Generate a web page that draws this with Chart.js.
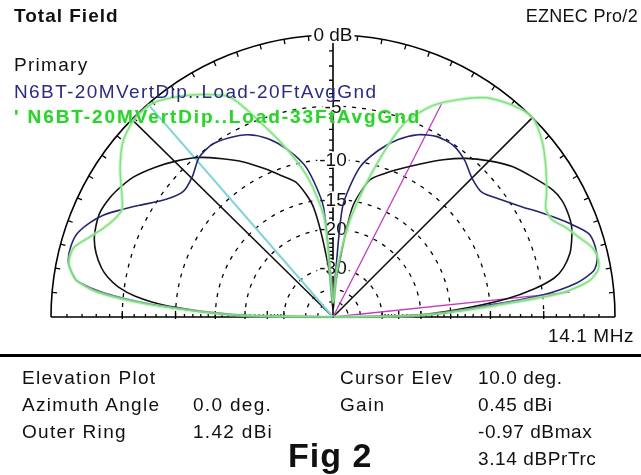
<!DOCTYPE html>
<html lang="en">
<head>
<meta charset="UTF-8">
<title>EZNEC Elevation Plot - Fig 2</title>
<script src="https://cdn.jsdelivr.net/npm/chart.js"></script>
<style>
    body { margin: 0; background: #fff; }
    #wrap { position: relative; width: 641px; height: 475px; overflow: hidden;
            font-family: "Liberation Sans", Arial, sans-serif; color: #111; }
    #plot { position: absolute; left: 0; top: 0; }
    .t { position: absolute; font-size: 19px; line-height: 1; white-space: nowrap; letter-spacing: 1.3px; }
    .bold { font-weight: bold; }
    .c4 { letter-spacing: 0.6px; }
    #rule { position: absolute; left: 0; top: 354px; width: 641px; height: 3px; background: #000; }
</style>
</head>
<body>
<div id="wrap">
    <canvas id="plot" width="641" height="475"></canvas>

    <div class="t bold" style="left:14px; top:6px; letter-spacing:1px;">Total Field</div>
    <div class="t" style="right:3px; top:7px; font-size:18px; letter-spacing:0.3px;">EZNEC Pro/2</div>
    <div class="t" style="left:14px; top:55px;">Primary</div>
    <div class="t" style="left:14px; top:82px; color:#2b2b80; letter-spacing:1.4px;">N6BT-20MVertDip..Load-20FtAvgGnd</div>
    <div class="t bold" style="left:14px; top:107px; color:#2ed12e; letter-spacing:1.9px; text-shadow:0 0 2px #c4f5c4;">' N6BT-20MVertDip..Load-33FtAvgGnd</div>
    <div class="t" style="left:548px; top:326px; letter-spacing:0.6px;">14.1 MHz</div>

    <div id="rule"></div>

    <div class="t" style="left:22px; top:368px;">Elevation Plot</div>
    <div class="t" style="left:22px; top:395px;">Azimuth Angle</div>
    <div class="t" style="left:22px; top:422px;">Outer Ring</div>
    <div class="t" style="left:193px; top:395px;">0.0 deg.</div>
    <div class="t" style="left:193px; top:422px;">1.42 dBi</div>
    <div class="t" style="left:340px; top:368px;">Cursor Elev</div>
    <div class="t" style="left:340px; top:395px;">Gain</div>
    <div class="t c4" style="left:478px; top:368px;">10.0 deg.</div>
    <div class="t c4" style="left:478px; top:395px;">0.45 dBi</div>
    <div class="t c4" style="left:478px; top:422px;">-0.97 dBmax</div>
    <div class="t c4" style="left:478px; top:449px;">3.14 dBPrTrc</div>
    <div class="t bold" style="left:288px; top:438px; font-size:34px; letter-spacing:1px;">Fig 2</div>
</div>

<script>
    // elevation angles in degrees (0 = right horizon, 90 = zenith, 180 = left horizon)
    const ELEV = [0, 1, 2, 4, 6, 8, 10, 12, 15, 18, 21, 24, 27, 30, 35, 40, 45, 50, 55, 60, 65, 70, 75, 80, 85,
        90, 95, 100, 105, 110, 115, 120, 125, 130, 135, 140, 145, 150, 153, 156, 159, 162, 165, 168, 170, 172,
        174, 176, 178, 179, 180];

    // gain in dB relative to the outer ring (1.42 dBi)
    const PRIMARY_DB = [-99, -24, -18, -12.5, -8.2, -5.6, -3.9, -3.1, -2.4, -2.0, -1.7, -1.6, -1.6, -1.8, -2.5,
        -3.2, -4.2, -5.3, -6.6, -8.0, -9.3, -10.5, -11.8, -16, -34,
        -60, -30, -16, -12.2, -10.8, -9.3, -7.8, -6.5, -5.2, -4.2, -3.3, -2.5, -2.0, -1.8, -1.7, -1.8, -2.0,
        -2.4, -3.0, -3.6, -4.5, -6.0, -8.8, -15, -21, -99];
    const LOAD20_DB = [-99, -22, -16, -11, -5, -2.3, -1.1, -0.75, -0.65, -0.8, -1.6, -2.5, -3.4, -4.3, -5.5,
        -6.4, -6.2, -5.5, -5.1, -5.2, -5.8, -6.9, -8.5, -10.7, -16,
        -40, -16, -10.7, -8.4, -6.8, -5.8, -5.3, -5.0, -5.2, -6.0, -6.3, -5.5, -4.0, -3.0, -2.0, -1.3, -0.8,
        -0.65, -0.7, -1.0, -1.5, -3.5, -7.5, -14, -20, -99];
    const LOAD33_DB = [-99, -22, -16, -9.5, -3.5, -1.5, -0.8, -0.65, -0.85, -1.5, -2.1, -2.8, -2.85, -2.3, -1.4,
        -0.55, 0, -0.3, -0.9, -2.0, -3.3, -5.5, -11, -18, -30,
        -50, -18, -12, -8.5, -5.5, -2.6, -1.6, -0.8, -0.15, -0.1, -0.5, -1.4, -2.5, -3.0, -2.8, -2.3, -1.6,
        -0.85, -0.75, -1.0, -1.5, -3.0, -7, -14, -20, -99];

    // straight lines drawn from the centre
    const BLACK_LINE_ANGLES = [45, 135.5];
    const BLACK_LINE_DB = [0, 0];
    const CYAN_LINE_ANGLES = [131];
    const CYAN_LINE_DB = [0];
    const MAGENTA_LINE_ANGLES = [63, 6];
    const MAGENTA_LINE_DB = [-2.8, -2.9];

    // grid rings
    const RING_DB = [-5, -10, -15, -20, -30, -40, -50];
    const RING_LABELS = ['-5', '-10', '-15', '-20', '-30'];
    const RING_LABEL_DB = [-5, -10, -15, -20, -30];

    // ARRL log scale: radius shrinks by 0.89 every 2 dB
    function ringRadius(db) {
        return Math.pow(0.89, -db / 2);
    }

    function toXY(angle, db) {
        const r = ringRadius(db);
        const a = angle * Math.PI / 180;
        return { x: r * Math.cos(a), y: r * Math.sin(a) };
    }

    function patternPoints(values) {
        return ELEV.map((a, i) => toXY(a, values[i]));
    }

    function rayDatasets(angles, dbs, color, width) {
        return angles.map((a, i) => ({
            data: [{ x: 0, y: 0 }, toXY(a, dbs[i])],
            borderColor: color,
            borderWidth: width,
            showLine: true,
            pointRadius: 0,
            clip: false
        }));
    }

    // rings, axes, ticks and dB labels
    const polarGrid = {
        id: 'polarGrid',
        beforeDatasetsDraw(chart) {
            const { ctx, scales: { x, y } } = chart;
            const cx = x.getPixelForValue(0);
            const cy = y.getPixelForValue(0);
            const R = x.getPixelForValue(1) - cx;
            ctx.save();
            ctx.strokeStyle = '#000';

            ctx.lineWidth = 1.3;
            ctx.setLineDash([4, 6]);
            RING_DB.forEach(db => {
                ctx.beginPath();
                ctx.arc(cx, cy, R * ringRadius(db), Math.PI, 2 * Math.PI);
                ctx.stroke();
            });
            ctx.setLineDash([]);

            ctx.lineWidth = 1.6;
            ctx.beginPath();
            ctx.arc(cx, cy, R, Math.PI, 2 * Math.PI);
            ctx.stroke();

            ctx.beginPath();
            ctx.moveTo(cx - R, cy);
            ctx.lineTo(cx + R, cy);
            ctx.moveTo(cx, cy);
            ctx.lineTo(cx, cy - R);
            ctx.stroke();

            // ticks on the outer ring every 5 degrees
            ctx.lineWidth = 1.3;
            for (let a = 5; a < 180; a += 5) {
                const t = a * Math.PI / 180;
                ctx.beginPath();
                ctx.moveTo(cx + R * Math.cos(t), cy - R * Math.sin(t));
                ctx.lineTo(cx + (R - 5) * Math.cos(t), cy - (R - 5) * Math.sin(t));
                ctx.stroke();
            }

            // dB ticks on baseline and vertical axis
            for (let d = 1; d <= 30; d++) {
                const r = R * ringRadius(-d);
                const big = d % 5 === 0;
                const len = big ? 6 : 3;
                ctx.beginPath();
                ctx.moveTo(cx - r, cy + (big ? 2 : 0));
                ctx.lineTo(cx - r, cy - len);
                ctx.moveTo(cx + r, cy + (big ? 2 : 0));
                ctx.lineTo(cx + r, cy - len);
                ctx.moveTo(cx - 4, cy - r);
                ctx.lineTo(cx, cy - r);
                ctx.stroke();
            }

            // labels on the vertical axis
            ctx.font = '19px "Liberation Sans", Arial, sans-serif';
            ctx.textAlign = 'center';
            ctx.textBaseline = 'middle';
            const labels = RING_LABELS.map((txt, i) => ({ txt, r: R * ringRadius(RING_LABEL_DB[i]) }));
            labels.unshift({ txt: '0 dB', r: R });
            labels.forEach(l => {
                const w = ctx.measureText(l.txt).width;
                ctx.fillStyle = '#fff';
                ctx.fillRect(cx - w / 2 - 2, cy - l.r - 8, w + 4, 16);
                ctx.fillStyle = '#111';
                ctx.fillText(l.txt, cx, cy - l.r + 1);
            });
            ctx.restore();
        }
    };

    const datasets = [
        {
            data: patternPoints(LOAD33_DB),
            borderColor: 'rgba(175, 240, 175, 0.6)',
            borderWidth: 3.5,
            showLine: true, pointRadius: 0, tension: 0.25, clip: false
        },
        {
            data: patternPoints(LOAD33_DB),
            borderColor: '#3cc83c',
            borderWidth: 1.4,
            showLine: true, pointRadius: 0, tension: 0.25, clip: false
        },
        {
            data: patternPoints(LOAD20_DB),
            borderColor: '#25256e',
            borderWidth: 1.6,
            showLine: true, pointRadius: 0, tension: 0.25, clip: false
        },
        {
            data: patternPoints(PRIMARY_DB),
            borderColor: '#111',
            borderWidth: 1.6,
            showLine: true, pointRadius: 0, tension: 0.25, clip: false
        }
    ]
        .concat(rayDatasets(CYAN_LINE_ANGLES, CYAN_LINE_DB, '#7fd3dc', 2))
        .concat(rayDatasets(MAGENTA_LINE_ANGLES, MAGENTA_LINE_DB, '#c23cc2', 1.3))
        .concat(rayDatasets(BLACK_LINE_ANGLES, BLACK_LINE_DB, '#111', 1.5));

    new Chart(document.getElementById('plot'), {
        type: 'scatter',
        data: { datasets: datasets },
        options: {
            responsive: false,
            animation: false,
            devicePixelRatio: 1,
            layout: { padding: { left: 51, right: 26, top: 35, bottom: 158 } },
            scales: {
                x: { type: 'linear', min: -1, max: 1, display: false },
                y: { type: 'linear', min: 0, max: 1, display: false }
            },
            plugins: { legend: { display: false }, tooltip: { enabled: false } }
        },
        plugins: [polarGrid]
    });
</script>
</body>
</html>
